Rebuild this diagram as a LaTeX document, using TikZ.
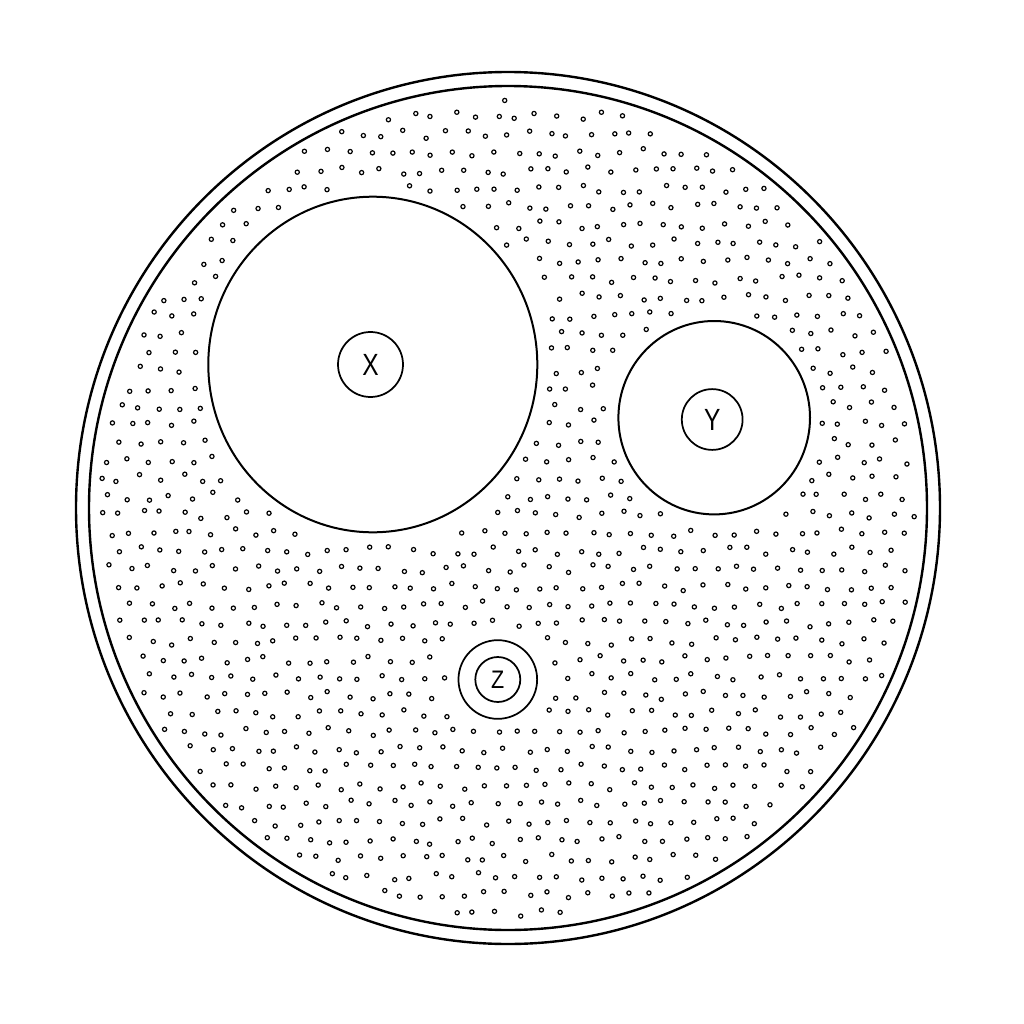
\documentclass[tikz,border=0pt]{standalone}
\usepackage{fontspec}
\setmainfont{Liberation Sans}
\begin{document}
\begin{tikzpicture}[x=0.75pt,y=-0.75pt,
  ring/.style={line width=1.8pt},
  region/.style={line width=1.5pt},
  dotc/.style={line width=0.9pt},
  lab/.style={circle, draw, line width=1.3pt, inner sep=0pt},
  bigtxt/.style={font=\fontsize{23}{23}\selectfont},
  smalltxt/.style={font=\fontsize{19}{19}\selectfont}]
\useasboundingbox (0,0) rectangle (1024,1024);
\fill[white] (0,0) rectangle (1024,1024);
% rings
\draw[ring] (508,508) ellipse [x radius=432, y radius=436];
\draw[ring] (508,508) ellipse [x radius=419, y radius=422];
% dots
\pgfmathsetseed{7}
\foreach \r in {0,...,48}{
  \foreach \c in {0,...,42}{
    \pgfmathsetmacro\px{78 + \c*20.9 + mod(\r,2)*10.45 + 4*rand}
    \pgfmathsetmacro\py{80 + \r*18.1 + 4*rand}
    \pgfmathtruncatemacro\ok{(veclen((\px-508)/409,(\py-508)/412)<1) && (veclen((\px-372.8)/177,(\py-364.5)/180)>1) && (veclen((\px-714.2)/108,(\py-417.7)/109)>1) && (veclen((\px-498)/52,(\py-679.5)/52)>1)}
    \ifnum\ok=1 \draw[dotc] (\px,\py) circle[radius=2.1]; \fi
  }
}
% regions
\draw[region] (372.8,364.5) ellipse [x radius=164.5, y radius=167.8];
\draw[region] (714.2,417.7) ellipse [x radius=95.8, y radius=96.7];
% labels
\node[lab, bigtxt, minimum size=48.75pt] (xl) at (370.5,364.5) {\scalebox{0.8}[1]{X}};
\node[lab, bigtxt, minimum size=45.6pt] (yl) at (712.2,419.5) {\scalebox{0.8}[1]{Y}};
\node[lab, smalltxt, minimum size=33.75pt] (zl) at (497.8,679.5) {\scalebox{0.85}[1]{Z}};
\node[lab, minimum size=59pt] (zo) at (497.8,679.5) {};
\end{tikzpicture}
\end{document}
